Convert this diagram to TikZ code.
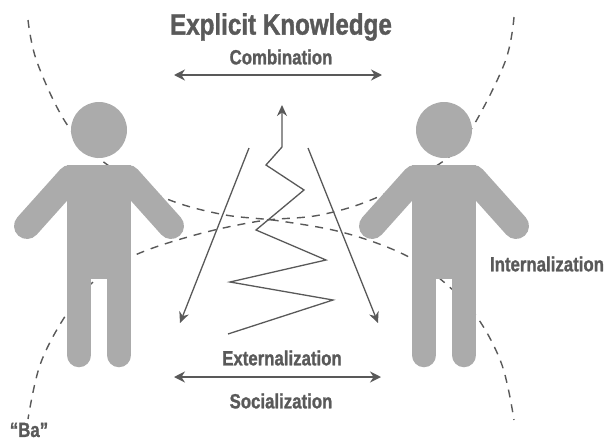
\documentclass[tikz,border=0pt]{standalone}
\usepackage{fontspec}
\setmainfont{Liberation Sans}
\newfontfamily\labelfont[FakeStretch=0.82, FakeBold=1.2]{Liberation Sans Bold}
\usetikzlibrary{arrows.meta}
\definecolor{persongray}{HTML}{ABABAB}
\definecolor{inkgray}{HTML}{595959}
\tikzset{
  person/.style={persongray, line cap=round},
  label/.style={text=inkgray, font=\labelfont\fontsize{20.5}{20.5}\selectfont, inner sep=0pt},
  bafield/.style={inkgray, line width=1.4pt, dash pattern=on 8pt off 7pt},
  flow/.style={inkgray, line width=1.3pt, -{Stealth[length=11pt,width=10pt]}},
  swap/.style={inkgray, line width=1.6pt, {Stealth[length=11pt,width=11pt]}-{Stealth[length=11pt,width=11pt]}}
}
\begin{document}
\begin{tikzpicture}[x=1pt, y=-1pt]

\useasboundingbox (0,0) rectangle (608,442);

\draw (281, 13) node[label, anchor=north, font=\labelfont\fontsize{29.5}{29.5}\selectfont] (explicit) {Explicit Knowledge};

\draw (281, 57) node[label] (combination) {Combination};

\draw (282, 358) node[label] (externalization) {Externalization};

\draw (281, 401) node[label] (socialization) {Socialization};

\draw (547, 264) node[label] (internalization) {Internalization};

\draw (29, 430) node[label] (ba) {“Ba”};

% dashed fields go under the two figures
\draw[bafield] plot[smooth, tension=0.6] coordinates {(28,20) (37,62) (66,123) (101,160) (160,196) (220,214) (280,221) (345,233) (405,255) (445,283) (477,317) (502,365) (514,420)};

\draw[bafield] plot[smooth, tension=0.6] coordinates {(514,17) (505,62) (472,128) (445,160) (378,197) (320,215) (260,221) (195,235) (133,256) (92,283) (64,318) (40,365) (28,419)};

\begin{scope}
\fill[persongray] (99, 130) circle (28pt);
\fill[persongray] (67, 165) rectangle (131, 279);
\draw[person, line width=26pt] (70, 178) -- (27, 226);
\draw[person, line width=26pt] (128, 178) -- (171, 226);
\draw[person, line width=24.5pt] (79, 270) -- (79, 355);
\draw[person, line width=24.5pt] (119, 270) -- (119, 355);
\end{scope}

\begin{scope}[xshift=345pt]
\fill[persongray] (99, 130) circle (28pt);
\fill[persongray] (67, 165) rectangle (131, 279);
\draw[person, line width=26pt] (70, 178) -- (27, 226);
\draw[person, line width=26pt] (128, 178) -- (171, 226);
\draw[person, line width=24.5pt] (79, 270) -- (79, 355);
\draw[person, line width=24.5pt] (119, 270) -- (119, 355);
\end{scope}

\coordinate (topl) at (174, 75);
\coordinate (topr) at (382, 75);
\coordinate (botl) at (174, 377);
\coordinate (botr) at (381, 377);
\coordinate (ls) at (249, 148);
\coordinate (le) at (180, 323);
\coordinate (rs) at (308, 148);
\coordinate (re) at (378, 323);

\draw[swap] (topl) -- (topr);

\draw[swap] (botl) -- (botr);

\draw[flow] (ls) -- (le);

\draw[flow] (rs) -- (re);

\draw[flow] (228, 334) -- (333, 300) -- (230, 282) -- (326, 260) -- (256, 230) -- (304, 190) -- (266, 165) -- (282, 147) -- (282, 105);

\end{tikzpicture}
\end{document}
